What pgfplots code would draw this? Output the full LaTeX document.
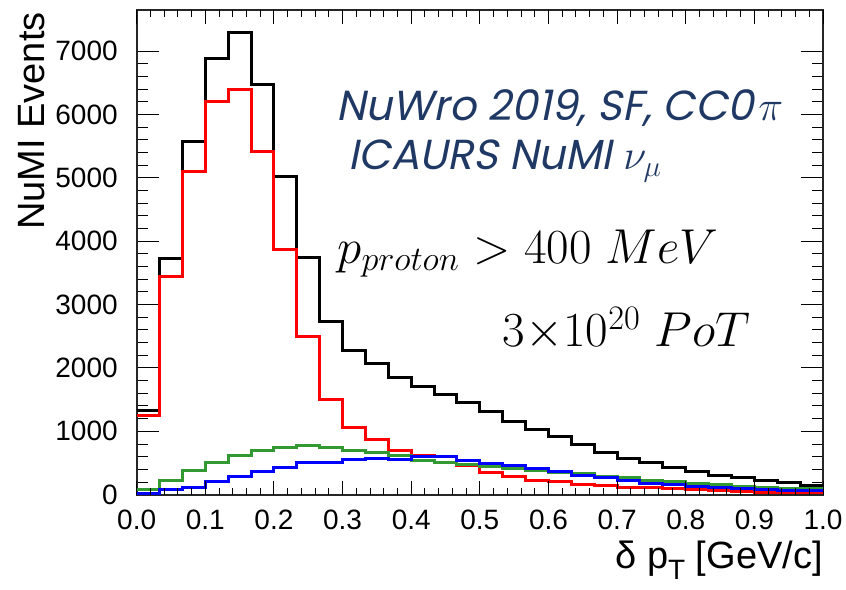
\documentclass[border=0pt]{standalone}
\usepackage{fix-cm}
\usepackage{pgfplots}
\pgfplotsset{compat=1.18}
\usepackage{pgfplotstable}
\usepackage{fontspec}
\setmainfont{Liberation Sans}
\newfontfamily\gothic[FakeSlant=0.2]{Poppins}
\usetikzlibrary{calc}
\definecolor{navy}{RGB}{31,56,100}
\definecolor{rootgreen}{RGB}{51,153,51}

\pgfplotstableread{
x black red green blue
0.0000 1335 1250 85 22
0.0333 3727 3444 231 85
0.0667 5570 5097 378 116
0.1000 6887 6199 510 205
0.1333 7291 6388 625 284
0.1667 6478 5417 704 362
0.2000 5018 3864 751 431
0.2333 3748 2500 772 504
0.2667 2740 1507 750 507
0.3000 2279 1058 700 560
0.3333 2069 872 661 578
0.3667 1843 693 614 557
0.4000 1712 625 546 598
0.4333 1581 600 504 598
0.4667 1449 457 483 535
0.5000 1307 352 441 494
0.5333 1150 284 416 463
0.5667 1030 231 389 409
0.6000 913 205 346 373
0.6333 794 168 335 308
0.6667 670 145 294 268
0.7000 573 110 274 220
0.7333 504 110 231 184
0.7667 425 95 211 164
0.8000 373 85 179 137
0.8333 310 69 157 116
0.8667 274 58 137 105
0.9000 220 38 116 85
0.9333 189 38 105 63
0.9667 148 32 105 63
1.0000 148 32 105 63
}\hist

\begin{document}
\begin{tikzpicture}
\begin{axis}[
  name=main,
  scale only axis, width=343.15pt, height=242.35pt,
  xmin=0, xmax=1, ymin=0, ymax=7650,
  xtick=\empty,
  ytick={0,1000,2000,3000,4000,5000,6000,7000},
  minor y tick num=4,
  major tick length=11pt, minor tick length=5.5pt,
  tick align=inside,
  axis line style={line width=1pt, black!85},
  tick style={line width=0.5pt, black},
  yticklabel style={font=\fontsize{14}{16}\selectfont, inner sep=0pt, xshift=-9.3pt},
  /pgf/number format/assume math mode=true,
  /pgf/number format/set thousands separator={},
  clip=false,
]
\addplot[const plot, black, line width=1.5pt] table[x=x, y=black] {\hist};
\addplot[const plot, red, line width=1.5pt] table[x=x, y=red] {\hist};
\addplot[const plot, rootgreen, line width=1.5pt] table[x=x, y=green] {\hist};
\addplot[const plot, blue, line width=1.5pt] table[x=x, y=blue] {\hist};

\node[anchor=base west, inner sep=0pt, text=navy, font=\gothic\fontsize{21}{24}\selectfont]
  at (rel axis cs:0.2904,0.773) {NuWro 2019, SF, CC0\kern0.1em$\pi$};
\node[anchor=base west, inner sep=0pt, text=navy, font=\gothic\fontsize{21}{24}\selectfont]
  at (rel axis cs:0.308,0.670) {ICAURS NuMI $\nu_{\mu}$};
\node[anchor=base west, inner sep=0pt, font=\fontsize{24.5}{28}\selectfont]
  at (rel axis cs:0.292,0.478) {$p_{proton} > 400\ MeV$};
\node[anchor=base west, inner sep=0pt, font=\fontsize{24.5}{28}\selectfont]
  at (rel axis cs:0.533,0.305) {$3{\times}10^{20}\ PoT$};

\node[rotate=90, anchor=base east, inner sep=0pt, font=\fontsize{19}{22}\selectfont]
  at ($(rel axis cs:0,1)+(-45.9pt,-1pt)$) {NuMI Events};
\node[anchor=north east, inner sep=0pt, font=\fontsize{19}{22}\selectfont]
  at ($(rel axis cs:1,0)+(0pt,-23pt)$) {δ p\raisebox{-0.55ex}{\fontsize{14}{16}\selectfont T} [GeV/c]};
\end{axis}
\begin{axis}[
  scale only axis, width=343.15pt, height=242.35pt,
  xmin=0, xmax=1, ymin=0, ymax=7650,
  ytick=\empty,
  xtick={0,0.1,0.2,0.3,0.4,0.5,0.6,0.7,0.8,0.9,1.0},
  minor x tick num=4,
  major tick length=7pt, minor tick length=3.5pt,
  tick align=inside,
  axis line style={draw=none},
  tick style={line width=0.5pt, black},
  xticklabel style={font=\fontsize{14}{16}\selectfont, inner sep=0pt, yshift=-7.5pt},
  /pgf/number format/assume math mode=true,
  /pgf/number format/.cd, fixed, fixed zerofill, precision=1,
]
\end{axis}
\pgfresetboundingbox
\path[use as bounding box] ($(main.south west)+(-68.35pt,-47.15pt)$) rectangle ($(main.north east)+(11.5pt,5pt)$);
\end{tikzpicture}
\end{document}
